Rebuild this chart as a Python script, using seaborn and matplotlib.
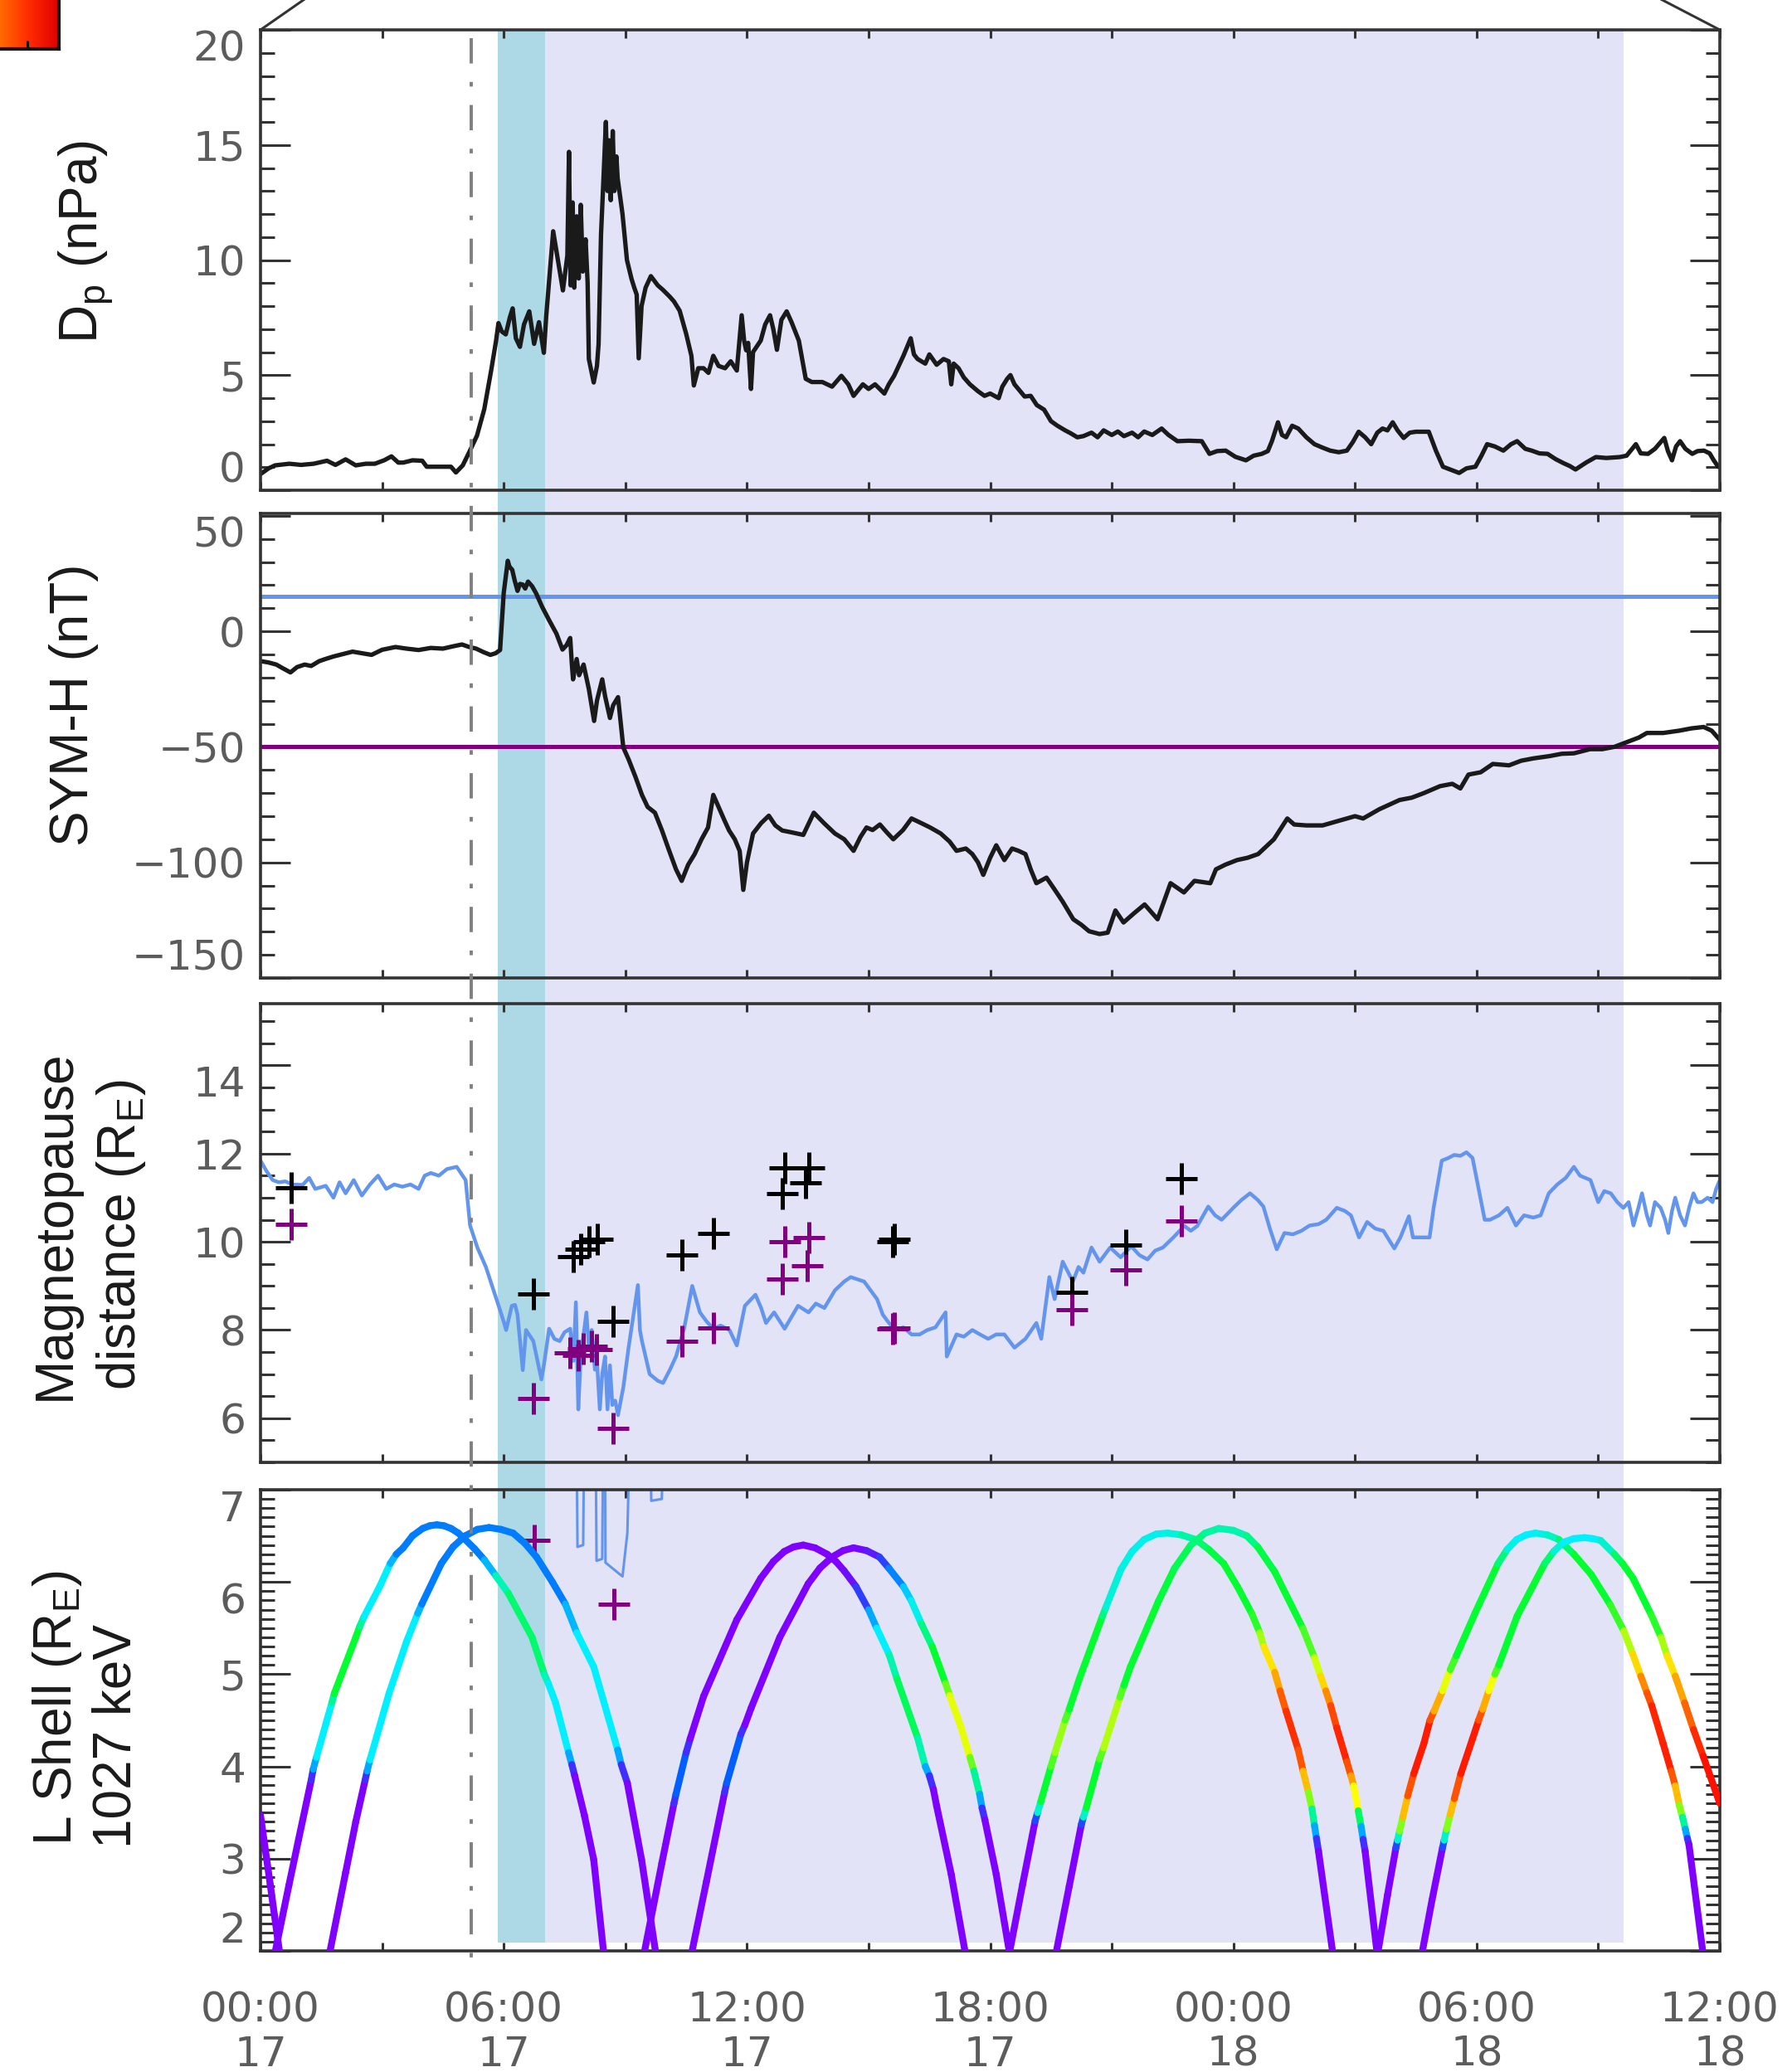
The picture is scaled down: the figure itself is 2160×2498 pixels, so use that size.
import numpy as np
import matplotlib
matplotlib.use("Agg")
import matplotlib.pyplot as plt
import seaborn as sns
from matplotlib.collections import LineCollection
from matplotlib.colors import LinearSegmentedColormap, Normalize
from matplotlib.lines import Line2D
from matplotlib.patches import Rectangle
from matplotlib.ticker import MultipleLocator, FixedLocator
import matplotlib.transforms as mtransforms

# ------------------------------------------------------------------
# Data: time in hours since 00:00 UT on the 17th
# ------------------------------------------------------------------
dp_hours = [0.0, 0.2, 0.36, 0.71, 1.0, 1.31, 1.64, 1.85, 2.1, 2.35, 2.6, 2.82, 3.05, 3.23, 3.4, 3.52,
            3.75, 3.99, 4.1, 4.4, 4.7, 4.82, 4.99, 5.17, 5.34, 5.52, 5.69, 5.81, 5.87, 5.95, 6.05, 6.15,
            6.22, 6.3, 6.4, 6.5, 6.63, 6.75, 6.87, 6.99, 7.05, 7.16, 7.22, 7.34, 7.46, 7.57, 7.61, 7.65,
            7.7, 7.74, 7.8, 7.85, 7.9, 7.95, 8.02, 8.07, 8.1, 8.22, 8.3, 8.34, 8.4, 8.46, 8.52, 8.56,
            8.6, 8.64, 8.69, 8.73, 8.78, 8.81, 8.93, 9.04, 9.15, 9.22, 9.28, 9.33, 9.37, 9.4, 9.5, 9.63,
            9.8, 9.93, 10.1, 10.2, 10.34, 10.5, 10.63, 10.69, 10.8, 10.93, 11.05, 11.17, 11.3, 11.46,
            11.6, 11.75, 11.87, 11.93, 11.98, 12.03, 12.1, 12.15, 12.34, 12.45, 12.57, 12.65, 12.74,
            12.85, 12.98, 13.1, 13.28, 13.45, 13.6, 13.86, 14.1, 14.33, 14.5, 14.63, 14.86, 15.0, 15.16,
            15.39, 15.5, 15.63, 15.86, 16.04, 16.12, 16.21, 16.4, 16.5, 16.68, 16.85, 16.98, 17.04,
            17.1, 17.22, 17.35, 17.5, 17.7, 17.86, 18.0, 18.21, 18.3, 18.42, 18.5, 18.6, 18.85, 19.0,
            19.15, 19.33, 19.5, 19.66, 19.85, 19.99, 20.15, 20.3, 20.5, 20.65, 20.8, 21.0, 21.15, 21.3,
            21.5, 21.65, 21.8, 22.0, 22.23, 22.4, 22.62, 22.9, 23.22, 23.41, 23.6, 23.81, 24.05, 24.31,
            24.5, 24.7, 24.85, 24.95, 25.1, 25.2, 25.3, 25.45, 25.6, 25.8, 26.0, 26.2, 26.39, 26.6,
            26.8, 26.95, 27.09, 27.25, 27.4, 27.55, 27.68, 27.8, 27.93, 28.05, 28.2, 28.35, 28.5,
            28.82, 29.0, 29.17, 29.35, 29.57, 29.75, 29.97, 30.12, 30.26, 30.45, 30.66, 30.85, 31.0,
            31.2, 31.36, 31.55, 31.75, 31.95, 32.15, 32.3, 32.44, 32.7, 32.94, 33.2, 33.53, 33.7,
            33.93, 34.05, 34.23, 34.4, 34.63, 34.72, 34.82, 34.92, 35.02, 35.15, 35.32, 35.45, 35.61,
            35.75, 35.85, 35.96, 36.0]
dp_npa = [0.7, 0.95, 1.08, 1.15, 1.1, 1.15, 1.28, 1.1, 1.34, 1.08, 1.15, 1.15, 1.3, 1.47, 1.2, 1.2,
          1.3, 1.28, 1.02, 1.02, 1.02, 0.77, 1.08, 1.73, 2.37, 3.52, 5.2, 6.48, 7.26, 6.9, 6.77, 7.5,
          7.9, 6.6, 6.23, 7.2, 7.77, 6.36, 7.3, 5.97, 7.6, 9.96, 11.25, 9.96, 8.68, 10.2, 14.7, 8.9,
          12.5, 8.8, 11.9, 9.2, 12.4, 9.5, 10.9, 9.0, 5.7, 4.68, 5.4, 6.35, 11.1, 13.5, 16.0, 13.0,
          15.2, 12.6, 15.6, 13.0, 14.5, 13.56, 12.0, 10.0, 9.2, 8.8, 8.5, 5.73, 7.0, 8.0, 8.8, 9.3,
          8.9, 8.7, 8.4, 8.2, 7.8, 6.8, 5.84, 4.55, 5.3, 5.3, 5.1, 5.84, 5.4, 5.3,
          5.6, 5.2, 7.6, 6.5, 6.08, 6.4, 4.4, 6.0, 6.5, 7.2, 7.6, 7.0, 6.1,
          7.4, 7.77, 7.3, 6.5, 4.84, 4.7, 4.7, 4.5, 4.97, 4.6, 4.1, 4.6, 4.4, 4.6,
          4.2, 4.6, 4.97, 5.84, 6.6, 5.9, 5.7, 5.5, 5.9, 5.45, 5.7, 5.6, 4.6,
          5.5, 5.3, 4.9, 4.6, 4.3, 4.1, 4.2, 4.0, 4.5, 4.84, 5.0, 4.6, 4.07, 4.1,
          3.7, 3.5, 3.0, 2.8, 2.6, 2.47, 2.3, 2.35, 2.5, 2.3, 2.6, 2.4, 2.55, 2.35,
          2.5, 2.3, 2.55, 2.4, 2.68, 2.4, 2.13, 2.15, 2.13, 1.58, 1.7, 1.72, 1.45, 1.3,
          1.5, 1.58, 1.7, 2.13, 2.95, 2.4, 2.3, 2.8, 2.68, 2.3, 2.0, 1.85, 1.72, 1.65,
          1.72, 2.1, 2.54, 2.3, 2.0, 2.5, 2.68, 2.6, 2.95, 2.6, 2.27, 2.5, 2.54,
          2.54, 1.7, 1.02, 0.9, 0.75, 0.95, 1.02, 1.5, 2.0, 1.9, 1.72, 2.0, 2.13,
          1.8, 1.72, 1.6, 1.58, 1.35, 1.17, 1.05, 0.9, 1.2, 1.44, 1.4, 1.44, 1.5,
          2.0, 1.6, 1.58, 1.8, 2.27, 1.7, 1.3, 1.9, 2.13, 1.8, 1.58, 1.7, 1.72,
          1.6, 1.3, 1.02, 1.0]

symh_hours = [0.0, 0.2, 0.39, 0.55, 0.74, 0.9, 1.09, 1.25, 1.45, 1.6, 1.8, 2.0, 2.27, 2.5, 2.74, 3.0,
              3.33, 3.6, 3.9, 4.2, 4.5, 4.75, 4.97, 5.15, 5.32, 5.5, 5.67, 5.8, 5.91, 6.0, 6.06, 6.1,
              6.14, 6.21, 6.27, 6.34, 6.4, 6.47, 6.53, 6.6, 6.7, 6.8, 6.95, 7.12, 7.3, 7.45, 7.55,
              7.64, 7.68, 7.71, 7.8, 7.86, 7.97, 8.1, 8.23, 8.3, 8.43, 8.5, 8.62, 8.7, 8.82, 8.95,
              9.08, 9.25, 9.41, 9.55, 9.73, 9.9, 10.06, 10.25, 10.39, 10.55, 10.71, 10.88, 11.04,
              11.17, 11.3, 11.45, 11.56, 11.7, 11.82, 11.91, 12.0, 12.15, 12.35, 12.54, 12.7, 12.87,
              13.1, 13.39, 13.65, 13.9, 14.17, 14.4, 14.63, 14.8, 14.95, 15.1, 15.28, 15.45, 15.61,
              15.85, 16.06, 16.3, 16.52, 16.78, 17.0, 17.17, 17.4, 17.56, 17.7, 17.83, 18.0, 18.15,
              18.35, 18.54, 18.7, 18.87, 19.0, 19.14, 19.39, 19.6, 19.79, 20.05, 20.25, 20.44, 20.7,
              20.9, 21.09, 21.29, 21.55, 21.81, 22.13, 22.45, 22.78, 23.04, 23.43, 23.57, 23.8,
              24.09, 24.35, 24.61, 25.0, 25.33, 25.5, 25.8, 26.2, 26.6, 27.0, 27.2, 27.6, 28.1,
              28.4, 28.7, 29.1, 29.4, 29.6, 29.8, 30.1, 30.4, 30.8, 31.1, 31.4, 31.8, 32.1, 32.4,
              32.8, 33.1, 33.4, 33.7, 34.0, 34.2, 34.6, 35.0, 35.3, 35.6, 35.8, 36.0]
symh_nt = [-12.9, -13.5, -14.4, -16.0, -17.8, -15.5, -14.4, -15.0, -12.9, -12.0, -10.9, -10.0, -8.8,
           -9.5, -10.2, -8.0, -6.8, -7.5, -8.1, -7.2, -7.5, -6.5, -5.7, -6.8, -7.5, -9.0, -10.2, -9.5,
           -8.1, 16.6, 25.0, 30.5, 28.0, 26.6, 22.0, 17.5, 20.5, 20.2, 18.5, 21.5, 19.5, 16.4, 10.5,
           4.8, -1.0, -7.9, -6.0, -2.9, -14.0, -20.8, -12.0, -19.0, -14.4, -25.0, -38.8, -30.0,
           -20.8, -28.0, -37.5, -32.0, -28.5, -50.3, -55.4, -63.0, -70.8, -76.0, -78.5, -86.0,
           -93.9, -103.0, -108.0, -101.0, -96.4, -90.0, -84.9, -70.8, -76.0, -82.0, -86.2, -90.0,
           -95.0, -111.9, -100.0, -87.5, -83.0, -79.8, -84.0, -86.2, -87.0, -88.1, -78.5, -83.0,
           -87.5, -90.0, -95.0, -89.0, -84.9, -86.0, -83.6, -87.0, -90.0, -86.0, -81.0, -83.0,
           -84.9, -87.5, -91.0, -95.0, -94.0, -96.4, -100.0, -105.4, -98.0, -92.6, -99.0, -94.0,
           -95.0, -96.4, -103.0, -109.0, -106.6, -112.0, -117.0, -124.6, -127.0, -129.8, -131.0,
           -130.4, -120.8, -126.0, -122.0, -118.2, -124.6, -109.0, -113.0, -108.0, -109.0, -103.0,
           -101.0, -99.0, -98.0, -96.4, -90.0, -81.0, -83.6, -84.0, -84.0, -82.0, -80.0, -81.0,
           -77.0, -73.0, -72.0, -70.0, -67.0, -66.0, -68.0, -62.0, -61.0, -57.4, -58.0, -56.0,
           -55.0, -54.0, -53.0, -52.8, -51.0, -51.0, -50.0, -48.0, -46.0, -44.0, -44.0, -43.0,
           -42.0, -41.4, -43.0, -47.0]
symh_levels = [15, -50]

mp_hours = [0.0, 0.15, 0.3, 0.45, 0.61, 0.8, 1.04, 1.2, 1.35, 1.61, 1.8, 1.95, 2.1, 2.3, 2.5, 2.7,
            2.9, 3.1, 3.3, 3.5, 3.7, 3.9, 4.05, 4.2, 4.4, 4.6, 4.84, 4.95, 5.06, 5.17, 5.35, 5.56,
            5.75, 5.92, 6.01, 6.06, 6.2, 6.28, 6.34, 6.47, 6.55, 6.73, 6.93, 6.99, 7.12, 7.25, 7.38,
            7.5, 7.64, 7.72, 7.78, 7.84, 7.9, 7.97, 8.04, 8.1, 8.17, 8.25, 8.3, 8.37, 8.43, 8.5,
            8.56, 8.62, 8.68, 8.75, 8.82, 8.95, 9.08, 9.21, 9.31, 9.36, 9.41, 9.6, 9.8, 9.93, 10.1,
            10.25, 10.45, 10.65, 10.84, 11.0, 11.17, 11.35, 11.57, 11.75, 11.95, 12.21, 12.35,
            12.47, 12.67, 12.93, 13.1, 13.26, 13.52, 13.7, 13.91, 14.17, 14.4, 14.56, 14.89, 15.05,
            15.21, 15.35, 15.47, 15.65, 15.86, 16.06, 16.26, 16.45, 16.65, 16.9, 16.93, 17.17,
            17.35, 17.56, 17.75, 17.95, 18.15, 18.35, 18.6, 18.87, 19.14, 19.26, 19.46, 19.59,
            19.79, 20.04, 20.18, 20.3, 20.5, 20.7, 20.96, 21.22, 21.48, 21.68, 21.88, 22.07, 22.26,
            22.52, 22.79, 22.95, 23.11, 23.38, 23.55, 23.71, 24.03, 24.2, 24.41, 24.6, 24.74, 24.9,
            25.07, 25.26, 25.47, 25.68, 25.88, 26.1, 26.29, 26.55, 26.75, 26.9, 27.1, 27.3, 27.5,
            27.7, 27.97, 28.12, 28.33, 28.43, 28.65, 28.84, 28.94, 29.14, 29.3, 29.45, 29.6, 29.75,
            29.9, 30.05, 30.2, 30.33, 30.55, 30.76, 30.97, 31.17, 31.4, 31.58, 31.78, 31.99, 32.2,
            32.4, 32.55, 32.81, 33.0, 33.15, 33.31, 33.47, 33.62, 33.75, 33.87, 34.0, 34.08, 34.2,
            34.28, 34.4, 34.54, 34.65, 34.73, 34.82, 34.9, 35.02, 35.14, 35.25, 35.35, 35.45,
            35.55, 35.7, 35.82, 35.91, 36.0]
mp_re = [11.84, 11.6, 11.4, 11.35, 11.37, 11.3, 11.29, 11.45, 11.2, 11.27, 11.0, 11.35, 11.1, 11.4,
         11.05, 11.3, 11.5, 11.2, 11.3, 11.25, 11.3, 11.2, 11.5, 11.56, 11.5, 11.65, 11.7, 11.55,
         11.4, 10.37, 9.87, 9.43, 8.9, 8.42, 8.16, 8.0, 8.55, 8.57, 8.35, 7.09, 8.0, 7.75, 6.88, 7.2,
         8.03, 7.8, 7.75, 7.95, 8.03, 7.3, 8.63, 6.2, 7.4, 7.9, 8.4, 7.6, 8.0, 7.1, 7.3, 6.2, 7.0,
         7.4, 6.2, 7.2, 6.3, 6.4, 6.07, 6.7, 7.6, 8.4, 9.02, 8.0, 7.75, 7.0, 6.85, 6.8, 7.1, 7.4,
         8.03, 9.0, 8.4, 8.2, 8.03, 8.1, 8.0, 7.65, 8.55, 8.8, 8.5, 8.16, 8.4, 8.03, 8.3, 8.55,
         8.4, 8.6, 8.5, 8.9, 9.1, 9.2, 9.1, 8.9, 8.7, 8.35, 8.2, 8.0, 8.06, 7.9, 7.9, 8.0, 8.06,
         8.4, 7.4, 7.9, 7.85, 8.0, 7.9, 7.8, 7.9, 7.9, 7.6, 7.8, 8.16, 7.8, 9.2, 8.7, 9.55, 9.1,
         9.43, 9.3, 9.87, 9.55, 9.87, 9.65, 9.9, 9.7, 9.6, 9.8, 9.87, 10.1, 10.36, 10.25, 10.36,
         10.8, 10.6, 10.5, 10.8, 10.95, 11.1, 10.95, 10.8, 10.3, 9.83, 10.2, 10.17, 10.25, 10.37,
         10.4, 10.5, 10.77, 10.7, 10.6, 10.1, 10.45, 10.3, 10.25, 9.85, 10.1, 10.58, 10.1, 10.1,
         10.1, 10.77, 11.84, 11.9, 11.97, 11.95, 12.03, 11.9, 11.2, 10.5, 10.5, 10.6, 10.77,
         10.37, 10.6, 10.55, 10.6, 11.1, 11.3, 11.45, 11.7, 11.5, 11.4, 10.9, 11.15, 11.1, 10.9,
         10.77, 10.9, 10.37, 10.8, 11.1, 10.6, 10.37, 10.9, 10.77, 10.5, 10.2, 10.7, 11.0, 10.6,
         10.37, 10.8, 11.1, 10.9, 10.9, 11.0, 10.9, 11.2, 11.4]

# brief excursions of the magnetopause trace that run into the L-shell panel
mp_spill_hours = [7.80, 7.82, 7.96, 7.98, 8.27, 8.29, 8.43, 8.45, 8.50, 8.51, 8.93, 9.05, 9.10,
                  9.62, 9.64, 9.90, 9.93]
mp_spill_lshell = [7.4, 6.38, 6.40, 7.4, 7.4, 6.23, 6.25, 7.4, 7.4, 6.21, 6.06, 6.53, 7.4,
                   7.4, 6.88, 6.90, 7.4]

standoff_a_hours = [0.75, 6.73, 7.71, 7.9, 8.1, 8.3, 8.69, 10.39, 11.17, 12.87, 12.93, 13.45, 13.52,
                    15.6, 15.63, 20.02, 21.35, 22.72]
standoff_a_re = [11.23, 8.82, 9.66, 9.83, 10.0, 10.06, 8.19, 9.7, 10.2, 11.1, 11.67, 11.34, 11.67,
                 10.0, 10.06, 8.86, 9.93, 11.44]
standoff_b_hours = [0.75, 6.73, 6.75, 7.64, 7.84, 7.97, 8.17, 8.29, 8.69, 8.72, 10.39, 11.17,
                    12.87, 12.93, 13.49, 13.52, 15.6, 15.63, 20.02, 21.35, 22.72]
standoff_b_re = [10.4, 6.45, 3.24, 7.48, 7.42, 7.57, 7.63, 7.55, 5.77, 1.79, 7.75, 8.05, 9.16,
                 10.0, 9.46, 10.1, 8.03, 8.05, 8.46, 9.36, 10.47]

nan = float("nan")
# spacecraft L shell with 1027 keV flux level (0 = lowest band ... 6 = highest band);
# NaN separates successive outbound/inbound passes
probe_a_hours = [0.33, 0.70, 0.94, 1.25, 1.30, 1.38, 1.76, 1.82, 2.35, 2.45, 2.55, 2.94, 3.20, 3.35,
                 3.52, 3.75, 4.0, 4.18, 4.35, 4.52, 4.7, 4.88, 5.05, 5.28, 5.52, 5.8, 6.11, 6.7, 7.0,
                 7.1, 7.28, 7.6, 7.68, 7.75, 7.99, 8.22, 8.48, nan,
                 9.44, 9.9, 10.2, 10.25, 10.5, 10.6, 10.93, 11.75, 12.34, 12.65, 12.92, 13.15, 13.39,
                 13.68, 13.98, 14.2, 14.4, 14.69, 15.0, 15.2, 15.51, 15.7, 16.21, 16.4, 16.5, 16.6,
                 16.68, 17.04, 17.41, nan,
                 18.45, 18.8, 19.11, 19.17, 19.25, 19.5, 19.6, 19.85, 19.95, 20.2, 20.77, 20.85,
                 21.23, 21.5, 21.8, 22.1, 22.38, 22.72, 23.07, 23.4, 23.76, 24.1, 24.45, 24.65,
                 24.75, 25.02, 25.15, 25.3, 25.6, 25.72, 25.85, 25.94, 26.0, 26.05, 26.1, 26.47, nan,
                 27.54, 27.8, 28.01, 28.05, 28.1, 28.18, 28.3, 28.45, 28.7, 28.85, 28.95, 29.16,
                 29.35, 29.5, 29.96, 30.53, 30.75, 30.99, 31.22, 31.45, 31.75, 32.03, 32.4, 32.83,
                 33.3, 33.63, 33.85, 34.05, 34.2, 34.32, 34.6, 34.8, 34.9, 35.0, 35.08, 35.15, 35.2,
                 35.24, 35.6]
probe_a_lshell = [1.92, 2.71, 3.21, 3.85, 3.97, 4.10, 4.69, 4.79, 5.40, 5.52, 5.62, 5.95, 6.20, 6.30,
                  6.37, 6.50, 6.58, 6.61, 6.62, 6.61, 6.58, 6.53, 6.46, 6.36, 6.24, 6.07, 5.88, 5.40,
                  5.0, 4.9, 4.69, 4.15, 4.02, 3.90, 3.47, 2.99, 1.92, nan,
                  1.92, 2.95, 3.60, 3.70, 4.15, 4.30, 4.76, 5.59, 6.04, 6.22, 6.33, 6.38, 6.40,
                  6.37, 6.30, 6.22, 6.12, 5.95, 5.70, 5.50, 5.21, 4.95, 4.31, 4.0, 3.9, 3.75,
                  3.57, 2.83, 1.92, nan,
                  1.92, 2.72, 3.41, 3.50, 3.62, 4.0, 4.15, 4.50, 4.62, 4.95, 5.63, 5.72,
                  6.14, 6.33, 6.46, 6.52, 6.53, 6.51, 6.46, 6.35, 6.20, 5.95, 5.66, 5.45,
                  5.30, 5.02, 4.82, 4.60, 4.18, 3.95, 3.72, 3.54, 3.36, 3.22, 3.08, 1.92, nan,
                  1.92, 2.60, 3.12, 3.20, 3.30, 3.45, 3.68, 3.92, 4.25, 4.50, 4.60, 4.82,
                  5.05, 5.20, 5.66, 6.20, 6.35, 6.46, 6.51, 6.53, 6.51, 6.46, 6.30, 6.08,
                  5.75, 5.47, 5.22, 4.98, 4.80, 4.66, 4.25, 3.95, 3.79, 3.58, 3.45, 3.32, 3.22,
                  3.15, 1.92]
probe_a_flux = [0, 0, 0, 0, 1, 2, 2, 3, 3, 3, 2, 2, 2, 1.2,
                1.2, 1.2, 1.2, 1.2, 1.2, 1.2, 1.2, 1.2, 1.2, 1.2, 1.2, 2, 2.7, 2.7,
                2.7, 2, 2, 2, 1, 0, 0, 0, 0, nan,
                0, 0, 0, 1, 1, 0, 0, 0, 0, 0, 0, 0, 0,
                0, 0, 0, 0, 0.3, 1, 2, 2, 2.8, 2.8, 2, 1, 0,
                0, 0, 0, nan,
                0, 0, 0, 1.5, 3, 3, 3.6, 3.6, 3, 3, 3, 2.2,
                2.2, 2.1, 2.1, 2.1, 2.1, 2.3, 2.6, 2.8, 3, 3, 3, 3.3,
                4, 4.4, 5, 5.6, 5.8, 5, 4, 3, 2, 1, 0, 0, nan,
                0, 0, 0, 1.5, 3, 4, 5, 5.8, 6, 5.8, 5, 4.3,
                3.5, 3, 3, 3, 2.3, 2, 2, 2, 2.2, 2.4, 3, 3,
                3, 3.4, 4, 4.6, 5.2, 5.6, 6, 5.7, 5, 4, 3, 2, 1,
                0, 0]

probe_b_hours = [0.0, 0.24, 0.49, nan,
                 1.68, 2.1, 2.35, 2.58, 2.63, 2.7, 3.17, 3.6, 3.88, 3.98, 4.46, 4.75, 5.05, 5.35,
                 5.64, 5.93, 6.23, 6.52, 6.81, 7.2, 7.52, 7.8, 8.22, 8.81, 8.9, 9.05, 9.4, 9.77, nan,
                 10.61, 11.0, 11.45, 11.5, 11.85, 11.95, 12.1, 12.81, 13.51, 13.8, 14.1, 14.37,
                 14.63, 14.95, 15.27, 15.5, 15.86, 16.05, 16.3, 16.57, 16.9, 17.0, 17.27, 17.5,
                 17.6, 17.74, 17.8, 17.87, 18.15, 18.5, nan,
                 19.60, 19.95, 20.25, 20.3, 20.37, 20.7, 20.8, 21.2, 21.3, 21.46, 22.15, 22.55,
                 22.95, 23.3, 23.64, 24.0, 24.33, 24.6, 25.02, 25.71, 26.0, 26.15, 26.28, 26.4,
                 26.55, 26.8, 26.9, 26.97, 27.08, 27.15, 27.2, 27.25, 27.56, nan,
                 28.63, 28.9, 29.16, 29.2, 29.26, 29.35, 29.45, 29.61, 29.9, 30.05, 30.15, 30.3,
                 30.45, 30.55, 31.0, 31.68, 31.9, 32.14, 32.4, 32.66, 32.86, 33.06, 33.4, 33.6,
                 33.86, 34.3, 34.55, 34.7, 34.9, 35.13, 35.35, 35.59, 36.0]
probe_b_lshell = [3.47, 2.72, 1.92, nan,
                  1.92, 2.85, 3.40, 3.85, 3.95, 4.07, 4.79, 5.35, 5.66, 5.76, 6.20, 6.38, 6.50, 6.57,
                  6.59, 6.57, 6.53, 6.42, 6.27, 6.0, 5.76, 5.45, 5.08, 4.18, 4.02, 3.82, 2.99, 1.92, nan,
                  1.92, 2.75, 3.72, 3.82, 4.35, 4.45, 4.63, 5.40, 5.98, 6.15, 6.27, 6.34,
                  6.37, 6.34, 6.27, 6.15, 5.95, 5.80, 5.55, 5.30, 4.90, 4.77, 4.44, 4.10,
                  3.95, 3.70, 3.55, 3.42, 2.83, 1.92, nan,
                  1.92, 2.70, 3.37, 3.45, 3.55, 4.08, 4.20, 4.75, 4.88, 5.08, 5.79, 6.15,
                  6.40, 6.53, 6.58, 6.56, 6.50, 6.38, 6.11, 5.50, 5.18, 4.98, 4.82, 4.66,
                  4.42, 4.05, 3.90, 3.79, 3.52, 3.35, 3.21, 3.08, 1.92, nan,
                  1.92, 2.55, 3.12, 3.20, 3.32, 3.48, 3.65, 3.92, 4.30, 4.50, 4.62, 4.82,
                  5.0, 5.10, 5.63, 6.20, 6.33, 6.43, 6.47, 6.48, 6.47, 6.45, 6.30, 6.20,
                  6.04, 5.65, 5.40, 5.20, 4.98, 4.69, 4.40, 4.11, 3.60]
probe_b_flux = [0, 0, 0, nan,
                0, 0, 0, 0, 1, 2, 2, 2, 2, 1.2, 1.2, 1.2, 1.2, 1.2,
                1.2, 1.2, 1.2, 1.2, 1.2, 1.2, 1.2, 2, 2, 2, 1, 0, 0, 0, nan,
                0, 0, 0, 1, 1, 0, 0, 0, 0, 0, 0, 0,
                0, 0.2, 0.4, 1, 1.5, 2, 2.2, 3, 3, 3.8, 4, 3.8,
                3, 2, 1, 0, 0, 0, nan,
                0, 0, 0, 1.5, 3, 3, 3.7, 3.7, 3, 3, 3, 2.9,
                2.8, 2.5, 2.4, 2.4, 2.4, 2.8, 3, 3, 3.6, 4, 4.6, 5.2,
                5.8, 5.8, 5, 4.5, 3.5, 2, 1, 0, 0, nan,
                0, 0, 0, 1.5, 3, 4, 5, 5.8, 6, 5.8, 5, 4.3,
                3.6, 3, 3, 3, 2.4, 2, 2, 2, 2, 2, 2.5, 3,
                3, 3, 3.3, 4, 4.4, 5, 5.5, 6, 6]

sudden_commencement_hour = 5.2
sheath_span = (5.85, 7.03)
storm_span = (7.03, 33.63)

time_ticks = [0, 6, 12, 18, 24, 30, 36]
time_labels = ["00:00\n17", "06:00\n17", "12:00\n17", "18:00\n17", "00:00\n18", "06:00\n18", "12:00\n18"]

# ------------------------------------------------------------------
# Styling
# ------------------------------------------------------------------
sns.set_theme(style="ticks")
plt.rcParams["font.family"] = ["DejaVu Sans"]
plt.rcParams["mathtext.fontset"] = "custom"
plt.rcParams["mathtext.rm"] = "Liberation Sans"
plt.rcParams["mathtext.it"] = "Liberation Sans:italic"
plt.rcParams["lines.scale_dashes"] = False
plt.rcParams["axes.unicode_minus"] = True

W, H = 2160, 2498
fig = plt.figure(figsize=(W / 100, H / 100), dpi=100)
fig.patch.set_facecolor("white")


def fx(px):
    return px / W


def fy(py):
    return 1 - py / H


AX_L, AX_R = 314, 2073
panel_px = [(36, 591), (619, 1179), (1210, 1763), (1796, 2352)]
axes = []
for top, bot in panel_px:
    ax = fig.add_axes([fx(AX_L), fy(bot), fx(AX_R - AX_L), (bot - top) / H])
    ax.set_facecolor("none")
    ax.set_zorder(1)
    axes.append(ax)
ax1, ax2, ax3, ax4 = axes

# background shading spanning all panels (drawn on the figure, behind the axes)
band_tr = mtransforms.blended_transform_factory(ax1.transData, fig.transFigure)
ax1.set_xlim(0, 36)
for (x0, x1), col in [(sheath_span, "#ADD8E6"), (storm_span, "#E3E3F7")]:
    fig.add_artist(Rectangle((x0, fy(2342)), x1 - x0, fy(36) - fy(2342), transform=band_tr,
                             facecolor=col, edgecolor="none", zorder=-1))

SPINE = "#333333"
TICKLAB = "#5c5c5c"
for ax in axes:
    ax.set_xlim(0, 36)
    for s in ax.spines.values():
        s.set_visible(True)
        s.set_color(SPINE)
        s.set_linewidth(2.6)
    ax.xaxis.set_major_locator(FixedLocator(time_ticks))
    ax.xaxis.set_minor_locator(MultipleLocator(3))
    ax.tick_params(axis="both", which="both", direction="in", top=True, right=True,
                   color=SPINE, width=2.2)
    ax.tick_params(axis="x", which="both", length=7)
    ax.tick_params(axis="y", which="major", length=26, pad=13, labelsize=36, labelcolor=TICKLAB)
    ax.tick_params(axis="y", which="minor", length=12)
    ax.set_xlabel("")
    ax.set_ylabel("")

for ax in axes[:3]:
    ax.tick_params(axis="x", labelbottom=False)

# Panel 1: dynamic pressure
sns.lineplot(x=dp_hours, y=dp_npa, ax=ax1, color="#1a1a1a", linewidth=3.8, estimator=None, sort=False)
ax1.set_ylim(0, 20)
ax1.yaxis.set_major_locator(FixedLocator([0, 5, 10, 15, 20]))
ax1.yaxis.set_minor_locator(MultipleLocator(1))

# Panel 2: SYM-H with threshold levels
ax2.axhline(symh_levels[0], color="#6495ED", linewidth=3.6, zorder=1)
ax2.axhline(symh_levels[1], color="#800080", linewidth=3.6, zorder=1)
sns.lineplot(x=symh_hours, y=symh_nt, ax=ax2, color="#1a1a1a", linewidth=3.8, estimator=None,
             sort=False, zorder=2)
ax2.set_ylim(-150, 51)
ax2.yaxis.set_major_locator(FixedLocator([-150, -100, -50, 0, 50]))
ax2.yaxis.set_minor_locator(MultipleLocator(10))

# Panel 3: magnetopause distance and standoff estimates
sns.lineplot(x=mp_hours, y=mp_re, ax=ax3, color="#6495ED", linewidth=3.2, estimator=None, sort=False)
sns.scatterplot(x=standoff_a_hours, y=standoff_a_re, ax=ax3, marker="+", s=760, color="black",
                linewidth=3.6, zorder=4)
sns.scatterplot(x=standoff_b_hours, y=standoff_b_re, ax=ax3, marker="+", s=760, color="#800080",
                linewidth=3.6, zorder=4, clip_on=False)
ax3.set_ylim(5.0, 15.4)
ax3.yaxis.set_major_locator(FixedLocator([6, 8, 10, 12, 14]))
ax3.yaxis.set_minor_locator(MultipleLocator(0.5))

# Panel 4: L shell coloured by flux level
flux_cmap = LinearSegmentedColormap.from_list(
    "flux", ["#7f00ff", "#0060ff", "#00f0ff", "#00ff30", "#ffff00", "#ff8000", "#ff1000"])
flux_norm = Normalize(0, 6)


def orbit_collection(hours, lshell, level):
    pts = np.column_stack([np.asarray(hours, float), np.asarray(lshell, float)])
    c = np.asarray(level, float)
    segs = np.stack([pts[:-1], pts[1:]], axis=1)
    cols = 0.5 * (c[:-1] + c[1:])
    ok = np.isfinite(segs).all(axis=(1, 2)) & np.isfinite(cols)
    lc = LineCollection(segs[ok], cmap=flux_cmap, norm=flux_norm, linewidths=6.0,
                        capstyle="round", joinstyle="round", zorder=3)
    lc.set_array(cols[ok])
    return lc


sns.lineplot(x=mp_spill_hours, y=mp_spill_lshell, ax=ax4, color="#6495ED", linewidth=2.2,
             estimator=None, sort=False)
ax4.add_collection(orbit_collection(probe_a_hours, probe_a_lshell, probe_a_flux))
ax4.add_collection(orbit_collection(probe_b_hours, probe_b_lshell, probe_b_flux))
ax4.set_ylim(2, 7)
ax4.yaxis.set_major_locator(FixedLocator([2, 3, 4, 5, 6, 7]))
ax4.yaxis.set_minor_locator(MultipleLocator(0.1))
ax4.set_xticks(time_ticks)
ax4.set_xticklabels(time_labels)
ax4.tick_params(axis="x", which="major", labelsize=36, labelcolor=TICKLAB, pad=34)
for lab in ax4.get_xticklabels():
    lab.set_linespacing(1.15)

# end labels of each y axis sit inside the frame
for ax in axes:
    labs = ax.get_yticklabels()
    lo, hi = ax.get_ylim()
    for lab, val in zip(labs, ax.get_yticks()):
        if abs(val - lo) < 1e-6:
            lab.set_va("bottom")
        elif abs(val - hi) < 1.5:
            lab.set_va("top")

# y axis titles
LAB_KW = dict(rotation=90, rotation_mode="anchor", ha="center", va="baseline",
              fontsize=46, color="#1a1a1a", family="Liberation Sans")
fig.text(fx(118), fy(291), r"D$_\mathregular{p}$ (nPa)", **LAB_KW)
fig.text(fx(106), fy(850), "SYM-H (nT)", **LAB_KW)
fig.text(fx(84), fy(1477), "Magnetopause", **LAB_KW)
fig.text(fx(163), fy(1489), r"distance (R$_\mathregular{E}$)", **LAB_KW)
fig.text(fx(86), fy(2059), r"L Shell (R$_\mathregular{E}$)", **LAB_KW)
fig.text(fx(158), fy(2093), "1027 keV", **LAB_KW)

# event marker through all panels
fig.add_artist(Line2D([sudden_commencement_hour, sudden_commencement_hour], [fy(46), fy(2362)],
                      transform=band_tr, color="#808080", linewidth=2.8,
                      linestyle=(0, (22, 16, 4, 16)), zorder=5))

# connector lines above the top panel
fig.add_artist(Line2D([fx(314), fx(370)], [fy(36), fy(-3)], color=SPINE, linewidth=2.2, zorder=5))
fig.add_artist(Line2D([fx(2073), fx(1998)], [fy(36), fy(-3)], color=SPINE, linewidth=2.2, zorder=5))

# colour bar fragment in the corner
cax = fig.add_axes([0, fy(59), fx(71), 59 / H])
grad = np.linspace(0, 1, 64)[None, :]
cax.imshow(grad, aspect="auto", extent=[0, 1, 0, 1],
           cmap=LinearSegmentedColormap.from_list("corner", ["#ff6a00", "#ff2a00", "#e00000"]))
for side in ["top", "left"]:
    cax.spines[side].set_visible(False)
for side in ["right", "bottom"]:
    cax.spines[side].set_visible(True)
    cax.spines[side].set_color("#111111")
    cax.spines[side].set_linewidth(3.0)
cax.set_xticks([0.46])
cax.set_yticks([])
cax.tick_params(axis="x", direction="in", length=7, width=2.2, color="#111111", labelbottom=False)

fig.savefig("out.png", dpi=100, facecolor="white")
